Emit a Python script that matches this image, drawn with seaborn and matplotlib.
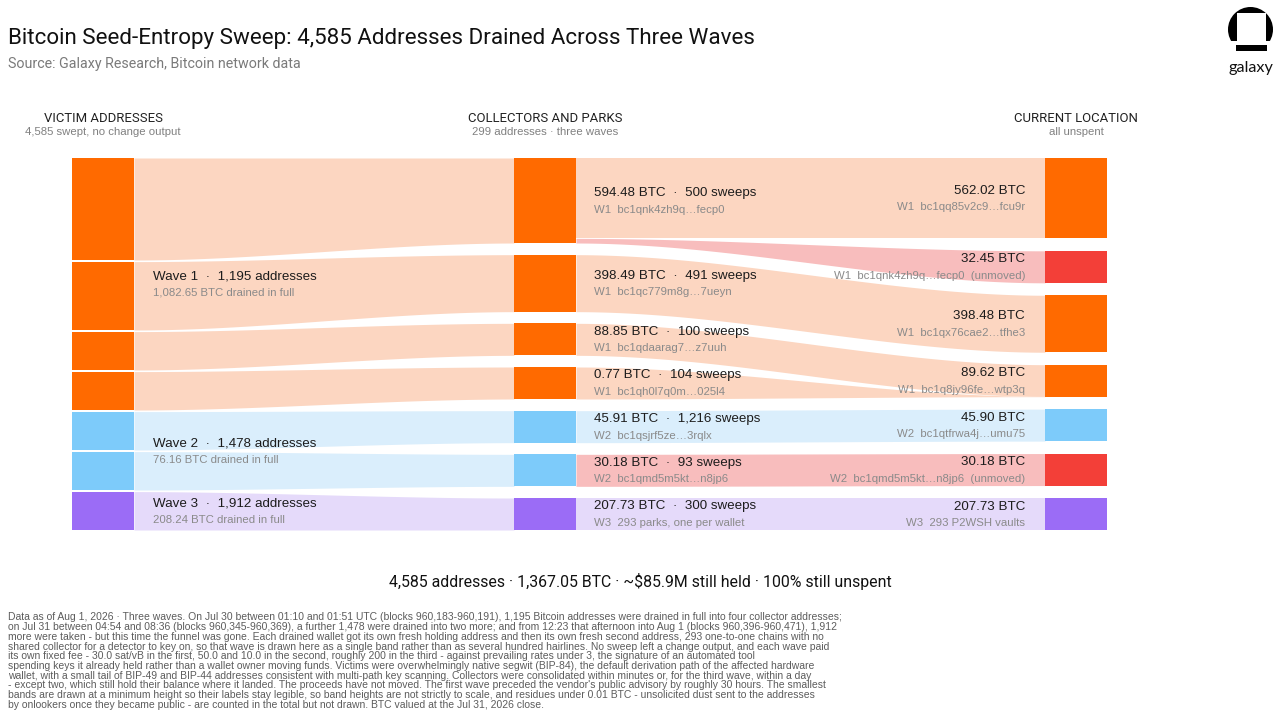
import numpy as np
import matplotlib
matplotlib.use("Agg")
import matplotlib.pyplot as plt
import seaborn as sns
from matplotlib import font_manager as fm
from matplotlib.patches import Circle, Rectangle

# ---------------- data ----------------
wave_names = ["Wave 1", "Wave 2", "Wave 3"]
wave_addresses = [1195, 1478, 1912]
wave_btc = [1082.65, 76.16, 208.24]

collector_wave = [0, 0, 0, 0, 1, 1, 2]
collector_btc = [594.48, 398.49, 88.85, 0.77, 45.91, 30.18, 207.73]
collector_sweeps = [500, 491, 100, 104, 1216, 93, 300]
collector_addr = ["bc1qnk4zh9q…fecp0", "bc1qc779m8g…7ueyn", "bc1qdaarag7…z7uuh",
                  "bc1qh0l7q0m…025l4", "bc1qsjrf5ze…3rqlx", "bc1qmd5m5kt…n8jp6",
                  "293 parks, one per wallet"]

dest_wave = [0, 0, 0, 0, 1, 1, 2]
dest_btc = [562.02, 32.45, 398.48, 89.62, 45.90, 30.18, 207.73]
dest_addr = ["bc1qq85v2c9…fcu9r", "bc1qnk4zh9q…fecp0", "bc1qx76cae2…tfhe3",
             "bc1q8jy96fe…wtp3q", "bc1qtfrwa4j…umu75", "bc1qmd5m5kt…n8jp6",
             "293 P2WSH vaults"]
dest_unmoved = [False, True, False, False, False, True, False]

flow_src = [0, 0, 1, 2, 3, 4, 5, 6]
flow_dst = [0, 1, 2, 3, 3, 4, 5, 6]
flow_btc = [562.02, 32.45, 398.48, 88.85, 0.77, 45.90, 30.18, 207.73]

column_titles = ["VICTIM ADDRESSES", "COLLECTORS AND PARKS", "CURRENT LOCATION"]
column_subtitles = ["4,585 swept, no change output", "299 addresses · three waves", "all unspent"]

title_text = "Bitcoin Seed-Entropy Sweep: 4,585 Addresses Drained Across Three Waves"
source_text = "Source: Galaxy Research, Bitcoin network data"
summary_text = "4,585 addresses · 1,367.05 BTC · ~$85.9M still held · 100% still unspent"
footnote_lines = [
    "Data as of Aug 1, 2026 · Three waves. On Jul 30 between 01:10 and 01:51 UTC (blocks 960,183-960,191), 1,195 Bitcoin addresses were drained in full into four collector addresses;",
    "on Jul 31 between 04:54 and 08:36 (blocks 960,345-960,369), a further 1,478 were drained into two more; and from 12:23 that afternoon into Aug 1 (blocks 960,396-960,471), 1,912",
    "more were taken - but this time the funnel was gone. Each drained wallet got its own fresh holding address and then its own fresh second address, 293 one-to-one chains with no",
    "shared collector for a detector to key on, so that wave is drawn here as a single band rather than as several hundred hairlines. No sweep left a change output, and each wave paid",
    "its own fixed fee - 30.0 sat/vB in the first, 50.0 and 10.0 in the second, roughly 200 in the third - against prevailing rates under 3, the signature of an automated tool",
    "spending keys it already held rather than a wallet owner moving funds. Victims were overwhelmingly native segwit (BIP-84), the default derivation path of the affected hardware",
    "wallet, with a small tail of BIP-49 and BIP-44 addresses consistent with multi-path key scanning. Collectors were consolidated within minutes or, for the third wave, within a day",
    "- except two, which still hold their balance where it landed. The proceeds have not moved. The first wave preceded the vendor's public advisory by roughly 30 hours. The smallest",
    "bands are drawn at a minimum height so their labels stay legible, so band heights are not strictly to scale, and residues under 0.01 BTC - unsolicited dust sent to the addresses",
    "by onlookers once they became public - are counted in the total but not drawn. BTC valued at the Jul 31, 2026 close.",
]

# ---------------- style ----------------
sns.set_theme(style="white")
plt.rcParams["font.family"] = ["Liberation Sans", "DejaVu Sans"]


def have(name):
    try:
        fm.findfont(fm.FontProperties(family=name), fallback_to_default=False)
        return True
    except Exception:
        return False


COND = "Liberation Sans Narrow" if have("Liberation Sans Narrow") else "Roboto"

node_cols = sns.color_palette(["#FF6A00", "#7DCBFA", "#9B6CF6"])
band_cols = sns.color_palette(["#FCD6C1", "#DAEEFC", "#E5DAFA"])
unmoved_node = "#F33F38"
unmoved_band = "#F8BDBD"
dark = "#1c1c1c"
grey = "#8a8a8a"

fig = plt.figure(figsize=(12.8, 7.2), dpi=100)
ax = fig.add_axes([0, 0, 1, 1])
ax.set_xlim(0, 1280)
ax.set_ylim(720, 0)
ax.axis("off")

# ---------------- layout ----------------
TOP, BOTTOM = 158.0, 530.0
PX_PER_BTC = 0.143
MIN_H = 32.0
NODE_W = 62.0
X_LEFT, X_MID, X_RIGHT = 72.0, 514.0, 1045.0
LEFT_GAP = 1.6


def stack(heights, gap=None):
    n = len(heights)
    if gap is None:
        gap = (BOTTOM - TOP - sum(heights)) / (n - 1)
    ys, y = [], TOP
    for h in heights:
        ys.append(y)
        y += h + gap
    return ys


mid_h = [max(v * PX_PER_BTC, MIN_H) for v in collector_btc]
mid_y = stack(mid_h)
right_h = [max(v * PX_PER_BTC, MIN_H) for v in dest_btc]
right_y = stack(right_h)
k = (BOTTOM - TOP - LEFT_GAP * (len(mid_h) - 1)) / sum(mid_h)
left_h = [h * k for h in mid_h]
left_y = stack(left_h, LEFT_GAP)


def band(x0, x1, t0, b0, t1, b1, color, z=1):
    xs = np.linspace(x0, x1, 300)
    s = (xs - x0) / (x1 - x0)
    s = s * s * (3 - 2 * s)
    ax.fill_between(xs, t0 + (t1 - t0) * s, b0 + (b1 - b0) * s,
                    color=color, lw=0, zorder=z)


# victims -> collectors
for i in range(len(collector_btc)):
    w = collector_wave[i]
    band(X_LEFT + NODE_W, X_MID, left_y[i], left_y[i] + left_h[i],
         mid_y[i], mid_y[i] + mid_h[i], band_cols[w])

# collectors -> current location
src_tot = [sum(v for s, v in zip(flow_src, flow_btc) if s == i) for i in range(len(collector_btc))]
dst_tot = [sum(v for d, v in zip(flow_dst, flow_btc) if d == i) for i in range(len(dest_btc))]
src_cur = list(mid_y)
dst_cur = list(right_y)
for s, d, v in zip(flow_src, flow_dst, flow_btc):
    hs = mid_h[s] * v / src_tot[s]
    hd = right_h[d] * v / dst_tot[d]
    col = unmoved_band if dest_unmoved[d] else band_cols[dest_wave[d]]
    band(X_MID + NODE_W, X_RIGHT, src_cur[s], src_cur[s] + hs,
         dst_cur[d], dst_cur[d] + hd, col, z=2 if dest_unmoved[d] else 1)
    src_cur[s] += hs
    dst_cur[d] += hd

# nodes
ax.bar([X_LEFT + NODE_W / 2] * len(left_h), left_h, bottom=left_y, width=NODE_W,
       color=[node_cols[w] for w in collector_wave], linewidth=0, zorder=3)
ax.bar([X_MID + NODE_W / 2] * len(mid_h), mid_h, bottom=mid_y, width=NODE_W,
       color=[node_cols[w] for w in collector_wave], linewidth=0, zorder=3)
ax.bar([X_RIGHT + NODE_W / 2] * len(right_h), right_h, bottom=right_y, width=NODE_W,
       color=[unmoved_node if u else node_cols[w] for w, u in zip(dest_wave, dest_unmoved)],
       linewidth=0, zorder=3)

MAIN_FS = 9.6
SUB_FS = 8.2

# wave labels
for w in range(len(wave_names)):
    idx = [i for i, cw in enumerate(collector_wave) if cw == w]
    top = left_y[idx[0]]
    bot = left_y[idx[-1]] + left_h[idx[-1]]
    c = (top + bot) / 2
    ax.text(153, c - 4, f"{wave_names[w]}  ·  {wave_addresses[w]:,} addresses",
            fontsize=MAIN_FS, color=dark, va="baseline", ha="left", zorder=5)
    ax.text(153, c + 11.8, f"{wave_btc[w]:,.2f} BTC drained in full",
            fontsize=SUB_FS, color=grey, va="baseline", ha="left", zorder=5)

# collector labels
for i in range(len(collector_btc)):
    c = mid_y[i] + mid_h[i] / 2
    ax.text(X_MID + NODE_W + 18, c - 4.5,
            f"{collector_btc[i]:.2f} BTC  ·  {collector_sweeps[i]:,} sweeps",
            fontsize=MAIN_FS, color=dark, va="baseline", ha="left", zorder=5)
    ax.text(X_MID + NODE_W + 18, c + 12, f"W{collector_wave[i] + 1}  {collector_addr[i]}",
            fontsize=SUB_FS, color=grey, va="baseline", ha="left", zorder=5)

# destination labels
for i in range(len(dest_btc)):
    c = right_y[i] + right_h[i] / 2
    ax.text(X_RIGHT - 20, c - 4.5, f"{dest_btc[i]:.2f} BTC",
            fontsize=MAIN_FS, color=dark, va="baseline", ha="right", zorder=5)
    extra = "  (unmoved)" if dest_unmoved[i] else ""
    ax.text(X_RIGHT - 20, c + 12, f"W{dest_wave[i] + 1}  {dest_addr[i]}{extra}",
            fontsize=SUB_FS, color=grey, va="baseline", ha="right", zorder=5)

# ---------------- texts needing width fitting ----------------
fig.canvas.draw()
renderer = fig.canvas.get_renderer()


def fit_width(t, w):
    bb = t.get_window_extent(renderer=renderer)
    t.set_fontsize(t.get_fontsize() * w / bb.width)
    return t.get_fontsize()


t = ax.text(8, 44, title_text, family=[COND, "DejaVu Sans"], fontsize=17,
            color="#111111", va="baseline", ha="left")
fit_width(t, 749)
t = ax.text(8, 68, source_text, family=[COND, "DejaVu Sans"], fontsize=11,
            color="#7a7a7a", va="baseline", ha="left")
fit_width(t, 292)

col_centers = [X_LEFT + NODE_W / 2, X_MID + NODE_W / 2, X_RIGHT + NODE_W / 2]
hfs = None
for j, (ttl, sub) in enumerate(zip(column_titles, column_subtitles)):
    t = ax.text(col_centers[j], 122, ttl, family=[COND, "DejaVu Sans"], fontsize=10,
                color="#222222", va="baseline", ha="center")
    if hfs is None:
        hfs = fit_width(t, 118)
    else:
        t.set_fontsize(hfs)
    ax.text(col_centers[j], 135, sub, fontsize=SUB_FS, color="#808080",
            va="baseline", ha="center")

t = ax.text(640, 587, summary_text, family=[COND, "DejaVu Sans"], fontsize=12,
            color="#111111", va="baseline", ha="center")
fit_width(t, 498)

ffs = None
for n, line in enumerate(footnote_lines):
    t = ax.text(8, 620.5 + 9.7 * n, line, fontsize=7, color="#5c5c5c",
                va="baseline", ha="left")
    if ffs is None:
        ffs = fit_width(t, 835)
    else:
        t.set_fontsize(ffs)

# ---------------- logo ----------------
ax.add_patch(Circle((1250.5, 29.5), 22.5, color="black", lw=0, zorder=5))
ax.add_patch(Rectangle((1226, 41), 50, 14, color="white", lw=0, zorder=6))
ax.add_patch(Rectangle((1237, 13), 28.5, 32, color="white", lw=0, zorder=7))
ax.add_patch(Rectangle((1236, 45), 31, 6, color="black", lw=0, zorder=7))
t = ax.text(1251, 72, "galaxy", fontsize=11, color="#111111", va="baseline",
            ha="center", family=["Lato", "DejaVu Sans"])
fit_width(t, 45)

fig.savefig("out.png", dpi=100)
